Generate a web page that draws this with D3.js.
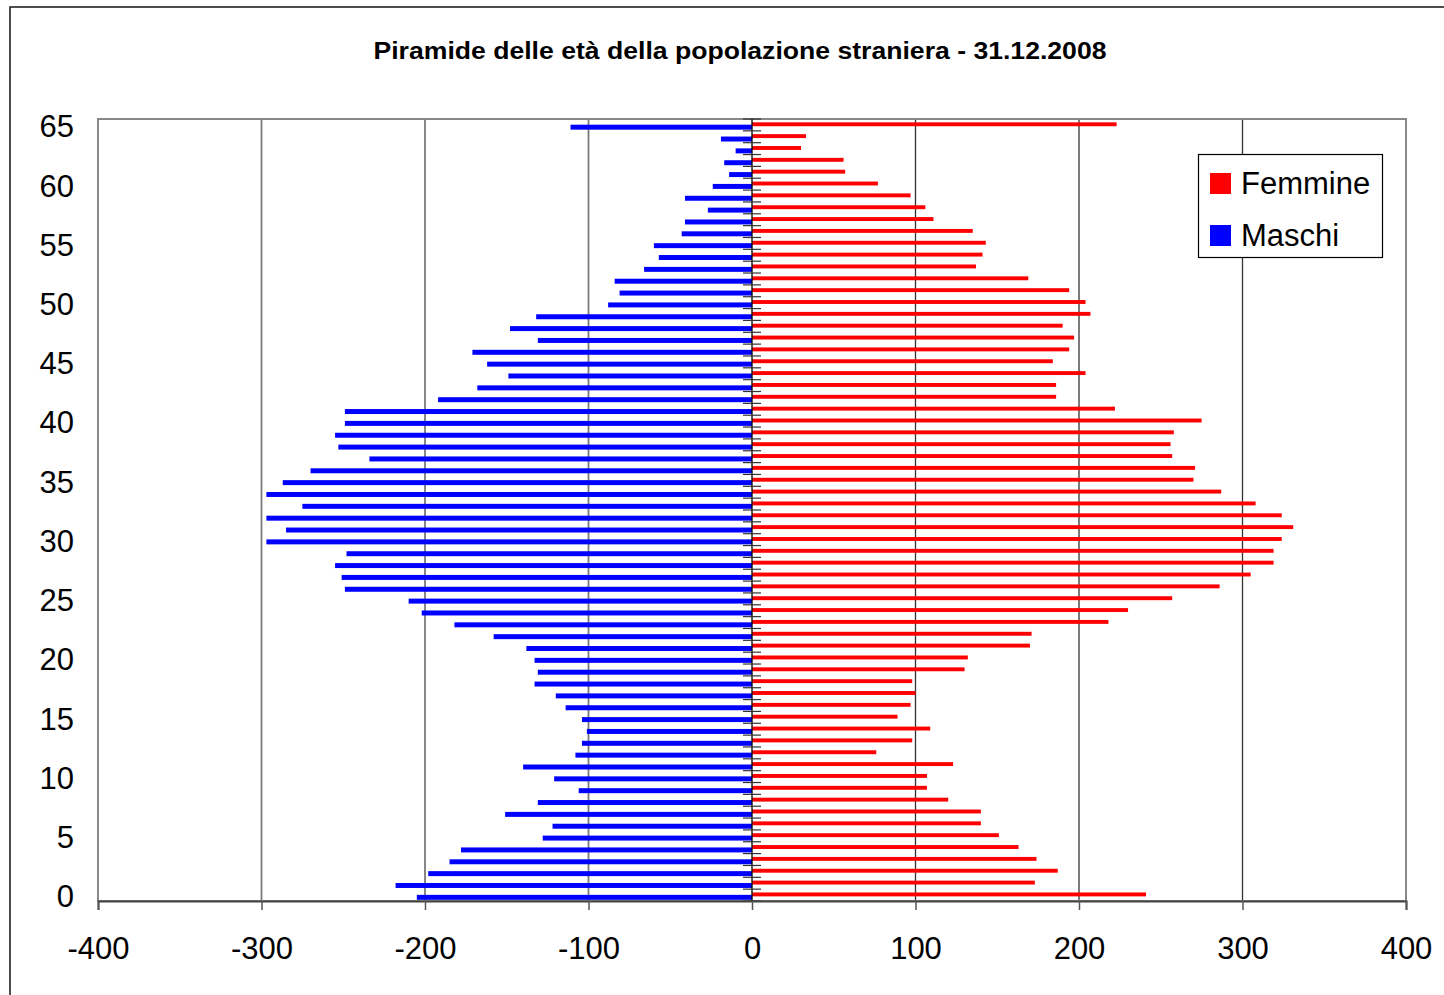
<!DOCTYPE html>
<html>
<head>
<meta charset="utf-8">
<script src="https://cdn.jsdelivr.net/npm/d3@7/dist/d3.min.js"></script>
<style>
html,body{margin:0;padding:0;background:#fff;}
svg{display:block;}
</style>
</head>
<body>
<svg id="chart" width="1444" height="995"></svg>
<script>
const title = "Piramide delle età della popolazione straniera - 31.12.2008";
const ages = d3.range(0, 66);
const maschi = [-205,-218,-198,-185,-178,-128,-122,-151,-131,-106,-121,-140,-108,-104,-101,-104,-114,-120,-133,-131,-133,-138,-158,-182,-202,-210,-249,-251,-255,-248,-297,-285,-297,-275,-297,-287,-270,-234,-253,-255,-249,-249,-192,-168,-149,-162,-171,-131,-148,-132,-88,-81,-84,-66,-57,-60,-43,-41,-27,-41,-24,-14,-17,-10,-19,-111];
const femmine = [241,173,187,174,163,151,140,140,120,107,107,123,76,98,109,89,97,100,98,130,132,170,171,218,230,257,286,305,319,319,324,331,324,308,287,270,271,257,256,258,275,222,186,186,204,184,194,197,190,207,204,194,169,137,141,143,135,111,106,97,77,57,56,30,33,223];
const xTicks = [-400,-300,-200,-100,0,100,200,300,400];
const yTickLabels = [0,5,10,15,20,25,30,35,40,45,50,55,60,65];
const seriesNames = ["Femmine","Maschi"];
const seriesColors = ["#ff0000","#0000ff"];

const svg = d3.select("#chart");
const L = 98, R = 1406, T = 119, B = 901;
const font = "'Liberation Sans', Arial, sans-serif";

// outer frame
svg.append("rect").attr("x",10).attr("y",7).attr("width",1460).attr("height",1010)
  .attr("fill","#fff").attr("stroke","#222").attr("stroke-width",1.6);

const x = d3.scaleLinear().domain([-400,400]).range([L,R]);
const y = d3.scaleBand().domain(ages.slice().reverse()).range([T,B]).padding(0);
const bw = y.bandwidth();

svg.append("rect").attr("x",L).attr("y",T).attr("width",R-L).attr("height",B-T).attr("fill","#fff");

// gridlines
svg.append("g").selectAll("line").data(xTicks.filter(d=>d!==0 && d!==-400 && d!==400)).join("line")
  .attr("x1",d=>x(d)).attr("x2",d=>x(d)).attr("y1",T).attr("y2",B)
  .attr("stroke",d=>d<0?"#7a7a7a":"#333").attr("stroke-width",d=>d<0?1.8:1.3);

// plot border (gray)
svg.append("rect").attr("x",L).attr("y",T).attr("width",R-L).attr("height",B-T)
  .attr("fill","none").attr("stroke","#888").attr("stroke-width",2);

// bars
svg.append("g").selectAll("rect").data(ages).join("rect")
  .attr("x",d=>x(0)).attr("y",d=>y(d)+bw*0.28)
  .attr("width",d=>x(femmine[d])-x(0)).attr("height",bw*0.33)
  .attr("fill",seriesColors[0]);
svg.append("g").selectAll("rect").data(ages).join("rect")
  .attr("x",d=>x(maschi[d])).attr("y",d=>y(d)+bw*0.48)
  .attr("width",d=>x(0)-x(maschi[d])).attr("height",bw*0.42)
  .attr("fill",seriesColors[1]);

// zero axis with category tick marks
const boundaries = ages.map(d=>y(d)).concat([B]);
svg.append("line").attr("x1",x(0)).attr("x2",x(0)).attr("y1",T).attr("y2",B)
  .attr("stroke","#000").attr("stroke-width",1.3);
svg.append("g").selectAll("line").data(boundaries).join("line")
  .attr("x1",x(0)-9).attr("x2",x(0)+9).attr("y1",d=>d).attr("y2",d=>d)
  .attr("stroke","#333").attr("stroke-width",1.2);

// bottom axis
const xAxis = d3.axisBottom(x).tickValues(xTicks).tickSize(9).tickPadding(27)
  .tickFormat(d=>String(d));
const gx = svg.append("g").attr("transform",`translate(0,${B})`).call(xAxis);
gx.select(".domain").attr("stroke","#444").attr("stroke-width",2);
gx.selectAll(".tick line").attr("stroke","#555").attr("stroke-width",1.5);
gx.selectAll(".tick text").attr("font-family",font).attr("font-size",31).attr("fill","#000");

// y labels
svg.append("g").selectAll("text").data(yTickLabels).join("text")
  .attr("x",74).attr("y",d=>y(d)+bw/2+1.5).attr("dy","0.35em")
  .attr("text-anchor","end").attr("font-family",font).attr("font-size",31).attr("fill","#000")
  .text(d=>d);

// title
svg.append("text").attr("x",740).attr("y",59).attr("text-anchor","middle")
  .attr("font-family",font).attr("font-weight","bold").attr("font-size",23)
  .attr("textLength",733).attr("lengthAdjust","spacingAndGlyphs")
  .text(title);

// legend
const lg = svg.append("g");
lg.append("rect").attr("x",1198.5).attr("y",154.5).attr("width",184).attr("height",103)
  .attr("fill","#fff").attr("stroke","#000").attr("stroke-width",1.2);
seriesNames.forEach((n,i)=>{
  const cy = 183 + i*52;
  lg.append("rect").attr("x",1210).attr("y",cy-10).attr("width",21).attr("height",21).attr("fill",seriesColors[i]);
  lg.append("text").attr("x",1241).attr("y",cy).attr("dy","0.36em")
    .attr("font-family",font).attr("font-size",31).attr("fill","#000").text(n);
});
</script>
</body>
</html>
